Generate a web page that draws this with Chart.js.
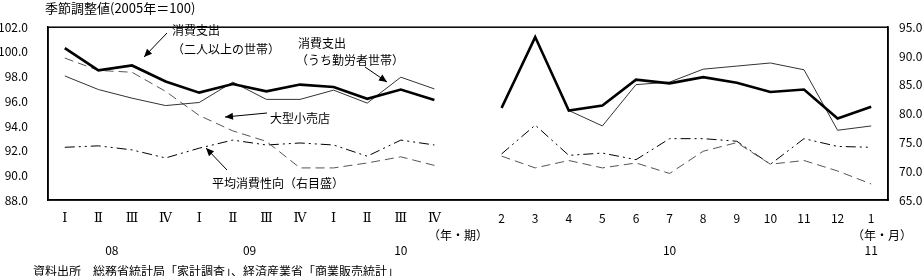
<!DOCTYPE html>
<html>
<head>
<meta charset="utf-8">
<script src="https://cdn.jsdelivr.net/npm/chart.js@4.4.0/dist/chart.umd.min.js"></script>
<style>
  html, body { margin: 0; padding: 0; background: #fff; }
  #wrap { width: 922px; height: 276px; position: relative; }
</style>
</head>
<body>
<div id="wrap"><canvas id="c"></canvas></div>
<script>
// 四半期（08 I〜10 IV）＋空白1つ＋月次（10年2月〜11年1月）
const quarterLabels = ['Ⅰ', 'Ⅱ', 'Ⅲ', 'Ⅳ', 'Ⅰ', 'Ⅱ', 'Ⅲ', 'Ⅳ', 'Ⅰ', 'Ⅱ', 'Ⅲ', 'Ⅳ'];
const monthLabels = ['2', '3', '4', '5', '6', '7', '8', '9', '10', '11', '12', '1'];

// 消費支出（二人以上の世帯）
const spendAllQ = [100.3, 98.5, 98.9, 97.6, 96.7, 97.4, 96.8, 97.35, 97.15, 96.2, 96.95, 96.1];
const spendAllM = [95.45, 101.2, 95.25, 95.65, 97.75, 97.45, 97.95, 97.5, 96.75, 96.95, 94.6, 95.55];
// 消費支出（うち勤労者世帯）
const spendWorkQ = [98.05, 96.95, 96.25, 95.65, 95.9, 97.55, 96.15, 96.15, 96.9, 95.85, 97.95, 97.0];
const spendWorkM = [95.6, 101.2, 95.25, 94.0, 97.35, 97.55, 98.6, 98.85, 99.1, 98.55, 93.65, 94.0];
// 大型小売店
const retailQ = [99.5, 98.5, 98.35, 96.8, 94.85, 93.6, 92.75, 90.6, 90.6, 91.0, 91.5, 90.8];
const retailM = [91.55, 90.6, 91.2, 90.6, 91.0, 90.15, 91.95, 92.65, 90.9, 91.2, 90.35, 89.3];
// 平均消費性向（右目盛）
const propensityQ = [74.15, 74.4, 73.7, 72.3, 74.0, 75.4, 74.55, 74.9, 74.55, 72.6, 75.4, 74.55];
const propensityM = [73.0, 78.0, 72.75, 73.15, 72.0, 75.65, 75.65, 75.2, 71.2, 75.65, 74.3, 74.15];

const leftTicks = [88, 90, 92, 94, 96, 98, 100, 102];
const rightTicks = [65, 70, 75, 80, 85, 90, 95];

const labels = [...quarterLabels, '', ...monthLabels];
const join = (q, m) => [...q, null, ...m];

const FONT = "'Noto Sans CJK JP', 'Noto Sans', sans-serif";
const SERIF = "'DejaVu Serif', 'Liberation Serif', serif";

// 年ラベル・注記
const yearMarks = [
  { idx: 1.4, text: '08' }, { idx: 5.5, text: '09' }, { idx: 10, text: '10' },
  { idx: 18, text: '10' }, { idx: 24, text: '11' }
];

function arrow(ctx, x1, y1, x2, y2) {
  ctx.beginPath();
  ctx.moveTo(x1, y1);
  ctx.lineTo(x2, y2);
  ctx.stroke();
  const a = Math.atan2(y2 - y1, x2 - x1);
  const L = 8, W = 3.5;
  ctx.beginPath();
  ctx.moveTo(x2, y2);
  ctx.lineTo(x2 - L * Math.cos(a) + W * Math.sin(a), y2 - L * Math.sin(a) - W * Math.cos(a));
  ctx.lineTo(x2 - L * Math.cos(a) - W * Math.sin(a), y2 - L * Math.sin(a) + W * Math.cos(a));
  ctx.closePath();
  ctx.fill();
}

const decor = {
  id: 'decor',
  beforeDatasetsDraw(chart) {
    const { ctx, chartArea: a } = chart;
    ctx.save();
    ctx.strokeStyle = '#000';
    ctx.lineWidth = 1.5;
    ctx.strokeRect(a.left, a.top, a.right - a.left, a.bottom - a.top);
    ctx.restore();
  },
  afterDraw(chart) {
    const { ctx } = chart;
    const x = chart.scales.x;
    ctx.save();
    ctx.fillStyle = '#000';
    ctx.strokeStyle = '#000';
    ctx.lineWidth = 1;
    ctx.textBaseline = 'middle';

    ctx.textAlign = 'left';
    ctx.font = '13px ' + FONT;
    ctx.fillText('季節調整値(2005年＝100)', 45, 8);
    ctx.font = '12px ' + FONT;
    ctx.fillText('資料出所　総務省統計局「家計調査」、経済産業省「商業販売統計」', 33, 271);

    ctx.textAlign = 'center';
    yearMarks.forEach(m => ctx.fillText(m.text, x.getPixelForValue(m.idx), 250));
    ctx.fillText('（年・期）', 458, 235);
    ctx.fillText('（年・月）', 882, 235);

    // 系列の注記
    ctx.textAlign = 'left';
    ctx.fillText('消費支出', 172, 30);
    ctx.fillText('（二人以上の世帯）', 172, 49);
    ctx.fillText('消費支出', 298, 43);
    ctx.fillText('（うち勤労者世帯）', 296, 60);
    ctx.fillText('大型小売店', 270, 118);
    ctx.fillText('平均消費性向（右目盛）', 212, 183);

    arrow(ctx, 167, 33, 144, 57);
    arrow(ctx, 365, 67, 387, 82);
    arrow(ctx, 267, 113, 225, 117);
    arrow(ctx, 227, 170, 206, 148);
    ctx.restore();
  }
};

new Chart(document.getElementById('c'), {
  type: 'line',
  data: {
    labels: labels,
    datasets: [
      {
        label: '消費支出（二人以上の世帯）',
        data: join(spendAllQ, spendAllM),
        borderColor: '#000', borderWidth: 2.6, yAxisID: 'y'
      },
      {
        label: '消費支出（うち勤労者世帯）',
        data: join(spendWorkQ, spendWorkM),
        borderColor: '#333', borderWidth: 1, yAxisID: 'y'
      },
      {
        label: '大型小売店',
        data: join(retailQ, retailM),
        borderColor: '#555', borderWidth: 1, borderDash: [9, 5], yAxisID: 'y'
      },
      {
        label: '平均消費性向',
        data: join(propensityQ, propensityM),
        borderColor: '#000', borderWidth: 1, borderDash: [10, 4, 2, 4, 2, 4], yAxisID: 'y1'
      }
    ]
  },
  options: {
    responsive: true,
    maintainAspectRatio: false,
    animation: false,
    spanGaps: false,
    elements: { point: { radius: 0 }, line: { tension: 0 } },
    layout: { padding: { top: 22, left: 0, right: 0, bottom: 0 } },
    plugins: { legend: { display: false }, tooltip: { enabled: false } },
    scales: {
      x: {
        offset: true,
        grid: { display: false, drawTicks: false },
        border: { display: true, color: '#000', width: 1.5 },
        ticks: {
          autoSkip: false, maxRotation: 0, padding: 11, color: '#000',
          font: c => (c.index < 12 ? { family: SERIF, size: 13 } : { family: FONT, size: 12 })
        },
        afterFit(s) { s.height = 76; }
      },
      y: {
        position: 'left',
        min: 88, max: 102,
        afterBuildTicks(s) { s.ticks = leftTicks.map(v => ({ value: v })); },
        grid: { display: false, drawTicks: false },
        border: { display: true, color: '#000', width: 1.5 },
        ticks: { padding: 20, color: '#000', font: { family: FONT, size: 12 }, callback: v => v.toFixed(1) },
        afterFit(s) { s.width = 48; }
      },
      y1: {
        position: 'right',
        min: 65, max: 95,
        afterBuildTicks(s) { s.ticks = rightTicks.map(v => ({ value: v })); },
        grid: { display: false, drawTicks: false },
        border: { display: true, color: '#000', width: 1.5 },
        ticks: { padding: 11, color: '#000', font: { family: FONT, size: 12 }, callback: v => v.toFixed(1) },
        afterFit(s) { s.width = 34; }
      }
    }
  },
  plugins: [decor]
});
</script>
</body>
</html>
